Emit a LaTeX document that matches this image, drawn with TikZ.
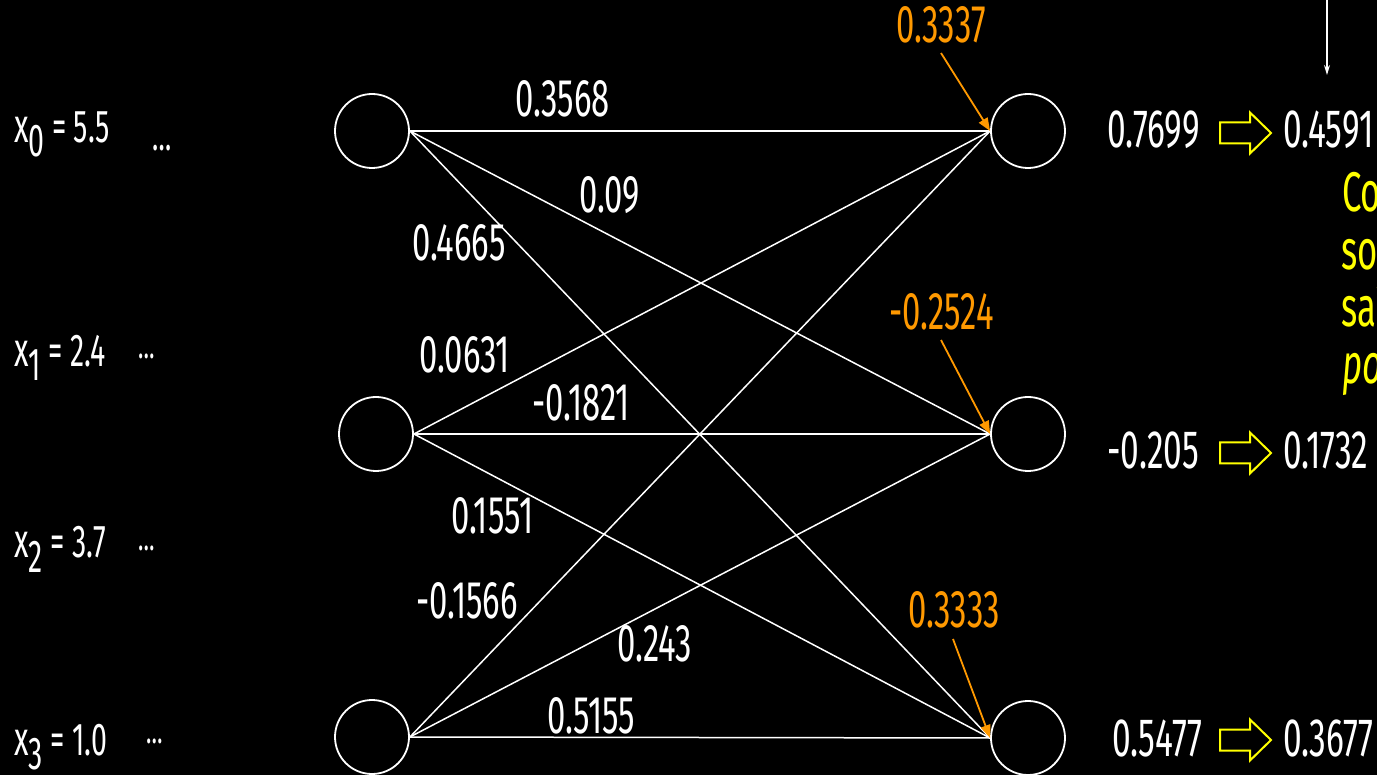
\documentclass[tikz,border=0pt]{standalone}
\usepackage{fontspec}
\setmainfont{Fira Sans}[FakeStretch=0.62]
\usetikzlibrary{arrows.meta}
\definecolor{orng}{RGB}{255,153,0}
\definecolor{yell}{RGB}{255,255,0}
\newcommand\mysub[1]{\raisebox{-14pt}{#1}}
\newcommand\myx{{\fontsize{48}{50}\selectfont x}}
\begin{document}
\begin{tikzpicture}[x=1pt,y=-1pt,
  neuron/.style={circle, draw=white, line width=1.8pt, minimum size=74pt, inner sep=0pt},
  conn/.style={draw=white, line width=1.5pt},
  wlab/.style={text=white, font=\fontsize{53}{60}\selectfont, inner sep=0pt, anchor=base west},
  olab/.style={text=orng, font=\fontsize{53}{60}\selectfont, inner sep=0pt, anchor=base west},
  rlab/.style={text=white, font=\fontsize{54}{60}\selectfont, inner sep=0pt, anchor=base west},
  ylab/.style={text=yell, font=\fontsize{56}{60}\selectfont, inner sep=0pt, anchor=base west},
  inlab/.style={text=white, font=\fontsize{46}{50}\selectfont, inner sep=0pt, anchor=base west},
  dots/.style={text=white, font=\fontsize{36}{40}\selectfont, inner sep=0pt},
  oarrow/.style={draw=orng, line width=1.8pt, -{Triangle[length=13pt,width=10pt]}},
  blockarrow/.pic={\draw[yell, line width=2pt, line join=miter]
     (0,-10.5) -- (30,-10.5) -- (30,-20.5) -- (51,0) -- (30,20.5) -- (30,10.5) -- (0,10.5) -- cycle;}
]
\useasboundingbox (0,0) rectangle (1377,775);
\clip (0,0) rectangle (1377,775);
\fill[black] (0,0) rectangle (1377,775);

% neurons
\node[neuron] (a0) at (372,131) {};
\node[neuron] (a1) at (376,434) {};
\node[neuron] (a2) at (372,737) {};
\node[neuron] (b0) at (1028,131) {};
\node[neuron] (b1) at (1028,434) {};
\node[neuron] (b2) at (1028,738) {};

% connections
\foreach \i in {0,1,2}{
  \foreach \j in {0,1,2}{
    \draw[conn] (a\i.east) -- (b\j.west);
  }
}

% weights
\node[wlab] (w00) at (515,117) {0.3568};
\node[wlab] (w01) at (579,213) {0.09};
\node[wlab] (w02) at (412,261) {0.4665};
\node[wlab] (w10) at (419,373) {0.0631};
\node[wlab] (w11) at (532,421) {-0.1821};
\node[wlab] (w12) at (451,533) {0.1551};
\node[wlab] (w20) at (416,618) {-0.1566};
\node[wlab] (w21) at (617,661) {0.243};
\node[wlab] (w22) at (547,733) {0.5155};

% biases
\node[olab] (o0) at (896,43) {0.3337};
\node[olab] (o1) at (889,330) {-0.2524};
\node[olab] (o2) at (908,627) {0.3333};
\coordinate (s0) at (941,53);
\coordinate (s1) at (941,340);
\coordinate (s2) at (953,639);
\draw[oarrow] (s0) -- (b0.west);
\draw[oarrow] (s1) -- (b1.west);
\draw[oarrow] (s2) -- (b2.west);

% inputs
\node[inlab] (x0) at (14,143) {\myx\mysub{0} = 5.5};
\node[inlab] (x1) at (14,367) {\myx\mysub{1} = 2.4};
\node[inlab] (x2) at (14,558) {\myx\mysub{2} = 3.7};
\node[inlab] (x3) at (14,755) {\myx\mysub{3} = 1.0};
\node[dots, font=\fontsize{42}{44}\selectfont] (d0) at (162,148) {…};
\node[dots] (d1) at (147,356) {…};
\node[dots] (d2) at (147,548) {…};
\node[dots] (d3) at (155,741) {…};

% outputs
\node[rlab] (z0) at (1107,148) {0.7699};
\node[rlab] (z1) at (1107,469) {-0.205};
\node[rlab] (z2) at (1112,756) {0.5477};
\pic at (1220,133) {blockarrow};
\pic at (1220,453) {blockarrow};
\pic at (1220,740) {blockarrow};
\node[rlab] (p0) at (1283,148) {0.4591};
\node[rlab] (p1) at (1283,469) {0.1732};
\node[rlab] (p2) at (1283,756) {0.3677};

% note (cut off at the right edge)
\node[ylab] (n0) at (1342,212) {Com};
\node[ylab] (n1) at (1341,270) {softmax};
\node[ylab] (n2) at (1341,327) {saídas};
\node[ylab] (n3) at (1342,384) {\itshape possíveis};

% arrow from above
\coordinate (dtop) at (1327,-2);
\coordinate (dbot) at (1327,75);
\draw[white, line width=1.2pt, -{Stealth[length=10pt,width=6pt]}] (dtop) -- (dbot);
\end{tikzpicture}
\end{document}
